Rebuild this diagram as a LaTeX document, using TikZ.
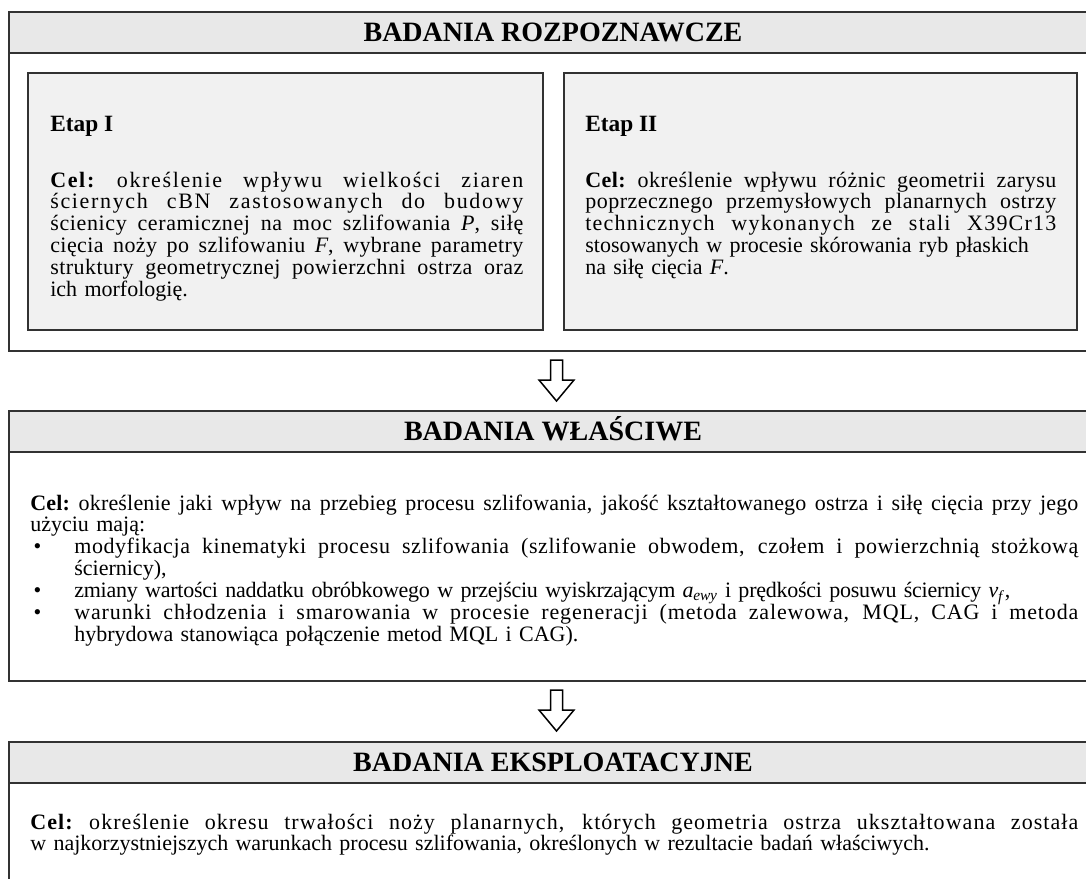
\documentclass[tikz,border=0pt]{standalone}
\usepackage{fontspec}
\setmainfont{Liberation Serif}[BoldFont={Liberation Serif Bold}, ItalicFont={Liberation Serif Italic}]
\usetikzlibrary{calc}

\definecolor{naglowek}{RGB}{232,232,232}
\definecolor{tloetapu}{RGB}{241,241,241}
\definecolor{ramka}{RGB}{50,50,50}

% wiersz wyjustowany: polowa roznicy w odstepach liter, reszta w spacjach
\newlength{\natA}
\newlength{\natB}
\newlength{\celW}
\newcommand{\pelny}[2]{%
	\setlength{\celW}{#1}%
	\settowidth{\natA}{#2}%
	\settowidth{\natB}{\addfontfeature{LetterSpace=10}#2}%
	\ifdim\celW>\natA
		\pgfmathsetmacro{\rozstaw}{5*(\celW-\natA)/(\natB-\natA)}%
	\else
		\pgfmathsetmacro{\rozstaw}{10*(\celW-\natA)/(\natB-\natA)}%
	\fi
	\makebox[\celW][s]{\addfontfeature{LetterSpace=\rozstaw}%
		\spaceskip=\fontdimen2\font plus 1fil\xspaceskip=\spaceskip #2}}
% wiersz o zadanej szerokosci (tylko odstepy liter)
\newcommand{\wiersz}[2]{%
	\setlength{\celW}{#1}%
	\settowidth{\natA}{#2}%
	\settowidth{\natB}{\addfontfeature{LetterSpace=10}#2}%
	\pgfmathsetmacro{\rozstaw}{10*(\celW-\natA)/(\natB-\natA)}%
	\makebox[\celW][l]{\addfontfeature{LetterSpace=\rozstaw}#2}}
\newcommand{\kropka}{\makebox[26.4pt][l]{\hspace{2pt}\textbullet}}
\newcommand{\wciecie}{\hspace*{26.4pt}}
\newcommand{\strzalka}[1]{\draw[pusta] (#1) ++(-6,0) -- ++(12,0) -- ++(0,20) -- ++(11.5,0) -- ++(-17.5,21) -- ++(-17.5,-21) -- ++(11.5,0) -- cycle;}

\tikzset{
	obrys/.style={draw=ramka, line width=1.2pt},
	pasek/.style={draw=ramka, line width=0.9pt},
	etapbox/.style={draw=ramka, fill=tloetapu, line width=1.5pt},
	pusta/.style={draw=black, fill=white, line width=0.9pt, line join=miter},
	tytul/.style={anchor=base, inner sep=0pt, font=\fontsize{16.8}{18}\selectfont\bfseries},
	etykieta/.style={anchor=base west, inner sep=0pt, font=\fontsize{14}{15}\selectfont\bfseries},
	tekst/.style={anchor=base west, inner sep=0pt, align=left, text width=640pt,
		font=\fontsize{13.2}{13.1}\selectfont, execute at begin node={\lineskiplimit=-20pt}}
}

\begin{document}
\begin{tikzpicture}[x=0.6pt, y=-0.6pt]
	\clip (0,0) rectangle (1086,878);

	% badania rozpoznawcze
	\fill[naglowek] (9,12) rectangle (1095,53);
	\draw[pasek] (9,53) -- (1095,53);
	\draw[obrys] (9,12) rectangle (1095,351);
	\node[tytul] (rozp) at (553,41) {BADANIA ROZPOZNAWCZE};

	\draw[etapbox] (28,73) rectangle (543,330);
	\draw[etapbox] (564,73) rectangle (1077,330);

	\node[etykieta] (etap1) at (50,131) {Etap I};
	\node[tekst] (cel1) at (50,187) {\pelny{283.8pt}{\textbf{Cel:} określenie wpływu wielkości ziaren}\newline
		\pelny{283.8pt}{ściernych cBN zastosowanych do budowy}\newline
		\pelny{283.8pt}{ścienicy ceramicznej na moc szlifowania \textit{P}, siłę}\newline
		\pelny{283.8pt}{cięcia noży po szlifowaniu \textit{F}, wybrane parametry}\newline
		\pelny{283.8pt}{struktury geometrycznej powierzchni ostrza oraz}\newline
		ich morfologię.};

	\node[etykieta] (etap2) at (585,131) {Etap II};
	\node[tekst] (cel2) at (585,187) {\pelny{282.6pt}{\textbf{Cel:} określenie wpływu różnic geometrii zarysu}\newline
		\pelny{282.6pt}{poprzecznego przemysłowych planarnych ostrzy}\newline
		\pelny{282.6pt}{technicznych wykonanych ze stali X39Cr13}\newline
		stosowanych w procesie skórowania ryb płaskich\newline
		na siłę cięcia \textit{F}.};

	\coordinate (s1) at (556.5,360);
	\strzalka{s1}

	% badania wlasciwe
	\fill[naglowek] (9,411) rectangle (1095,452);
	\draw[pasek] (9,452) -- (1095,452);
	\draw[obrys] (9,411) rectangle (1095,681);
	\node[tytul] (wlasc) at (553,440) {BADANIA WŁAŚCIWE};

	\node[tekst] (cel3) at (30,510) {\pelny{628.8pt}{\textbf{Cel:} określenie jaki wpływ na przebieg procesu szlifowania, jakość kształtowanego ostrza i siłę cięcia przy jego}\newline
		użyciu mają:\newline
		\kropka\pelny{602.4pt}{modyfikacja kinematyki procesu szlifowania (szlifowanie obwodem, czołem i powierzchnią stożkową}\newline
		\wciecie ściernicy),\newline
		\kropka\wiersz{561.6pt}{zmiany wartości naddatku obróbkowego w przejściu wyiskrzającym \textit{a}\textsubscript{\textit{ewy}} i prędkości posuwu ściernicy \textit{v}\textsubscript{\textit{f}},}\newline
		\kropka\pelny{602.4pt}{warunki chłodzenia i smarowania w procesie regeneracji (metoda zalewowa, MQL, CAG i metoda}\newline
		\wciecie hybrydowa stanowiąca połączenie metod MQL i CAG).};

	\coordinate (s2) at (556.5,690);
	\strzalka{s2}

	% badania eksploatacyjne
	\fill[naglowek] (9,742) rectangle (1095,783);
	\draw[pasek] (9,783) -- (1095,783);
	\draw[obrys] (9,742) rectangle (1095,895);
	\node[tytul] (eksp) at (553,771) {BADANIA EKSPLOATACYJNE};

	\node[tekst] (cel4) at (30,829) {\pelny{628.8pt}{\textbf{Cel:} określenie okresu trwałości noży planarnych, których geometria ostrza ukształtowana została}\newline
		w najkorzystniejszych warunkach procesu szlifowania, określonych w rezultacie badań właściwych.};
\end{tikzpicture}
\end{document}
